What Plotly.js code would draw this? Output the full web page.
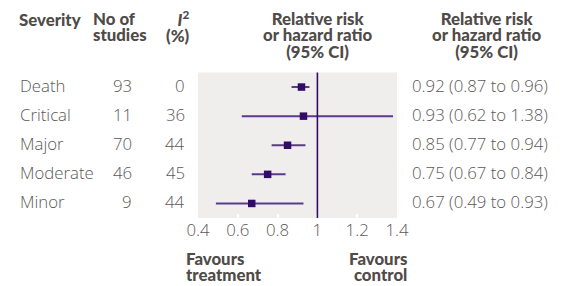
<!DOCTYPE html>
<html><head><meta charset="utf-8">
<script src="https://cdn.plot.ly/plotly-3.0.1.min.js"></script>
<style>html,body{margin:0;padding:0;background:#fff}</style>
</head><body><div id="c" style="width:576px;height:286px"></div>
<script>
const severity = ["Death","Critical","Major","Moderate","Minor"];
const studies = [93,11,70,46,9];
const i2 = [0,36,44,45,44];
const rr = [0.92,0.93,0.85,0.75,0.67];
const lo = [0.87,0.62,0.77,0.67,0.49];
const hi = [0.96,1.38,0.94,0.84,0.93];
const xTicks = [0.4,0.6,0.8,1,1.2,1.4];

const W=576,H=286;
const px = x=>x/W, py = y=>1-y/H;
const yPos = severity.map((_,i)=>severity.length-1-i);
const txt = "#5c5957", head="#4f4b48", purple="#320b66", ciCol="#5b3a8c";
const bodyFont = {family:"Open Sans, sans-serif", size:16.8, color:txt, weight:300};
const headSize = 16.8, lineGap = 16.3;
const headFont = {family:"Lato Black, Lato, sans-serif", size:lineGap/1.3, color:head, weight:900};

const ann = [];
severity.forEach((s,i)=>{
  const common = {xref:"paper",y:yPos[i],yref:"y",yshift:1.5,showarrow:false,font:bodyFont};
  ann.push(Object.assign({x:px(18),text:s,xanchor:"left"},common));
  ann.push(Object.assign({x:px(134),text:String(studies[i]),xanchor:"right"},common));
  ann.push(Object.assign({x:px(187),text:String(i2[i]),xanchor:"right"},common));
  ann.push(Object.assign({x:px(410),text:rr[i].toFixed(2)+" ("+lo[i].toFixed(2)+" to "+hi[i].toFixed(2)+")",xanchor:"left"},common));
});
function headBlock(x, yMid, lines, anchor){
  const t = lines.map(l=>"<span style='font-size:"+headSize+"px'>"+l+"</span>").join("<br>");
  ann.push({x:px(x),xref:"paper",y:py(yMid),yref:"paper",text:t,xanchor:anchor,yanchor:"middle",
    align:anchor==="center"?"center":anchor,showarrow:false,font:headFont});
}
headBlock(17,19,["Severity"],"left");
headBlock(91,27,["No of","studies"],"left");
headBlock(192,27,["<i>I</i><sup>2</sup>","(%)"],"right");
headBlock(318,35,["Relative risk","or hazard ratio","(95% CI)"],"center");
headBlock(487,35,["Relative risk","or hazard ratio","(95% CI)"],"center");
headBlock(184,266.5,["Favours","treatment"],"left");
headBlock(409,266.5,["Favours","control"],"right");

const trace = {
  type:"scatter", mode:"markers", x:rr, y:yPos,
  marker:{symbol:"square", size:7.5, color:purple},
  error_x:{type:"data", symmetric:false,
    array:hi.map((h,i)=>h-rr[i]), arrayminus:lo.map((l,i)=>rr[i]-l),
    color:ciCol, thickness:2, width:0},
  hoverinfo:"none", cliponaxis:false
};

const layout = {
  width:W, height:H, margin:{l:0,r:0,t:0,b:0},
  paper_bgcolor:"#fff", plot_bgcolor:"#f0eeec", showlegend:false,
  xaxis:{domain:[px(198),px(397)], range:[0.4,1.4], tickvals:xTicks, ticktext:xTicks.map(String),
    ticks:"inside", ticklen:4, tickwidth:2, tickcolor:"#ffffff", showgrid:false, zeroline:false,
    showline:false, tickfont:{family:"Open Sans, sans-serif", size:16.8, color:txt, weight:300}, fixedrange:true},
  yaxis:{domain:[py(218),py(72.5)], range:[-0.5,4.5], showticklabels:false, showgrid:false,
    zeroline:false, ticks:"", showline:false, fixedrange:true},
  shapes:[{type:"line", xref:"x", yref:"paper", x0:1, x1:1, y0:py(218), y1:py(72.5),
    line:{color:purple, width:1.6}}],
  annotations:ann
};
Plotly.newPlot("c",[trace],layout,{displayModeBar:false,staticPlot:true});
</script></body></html>
